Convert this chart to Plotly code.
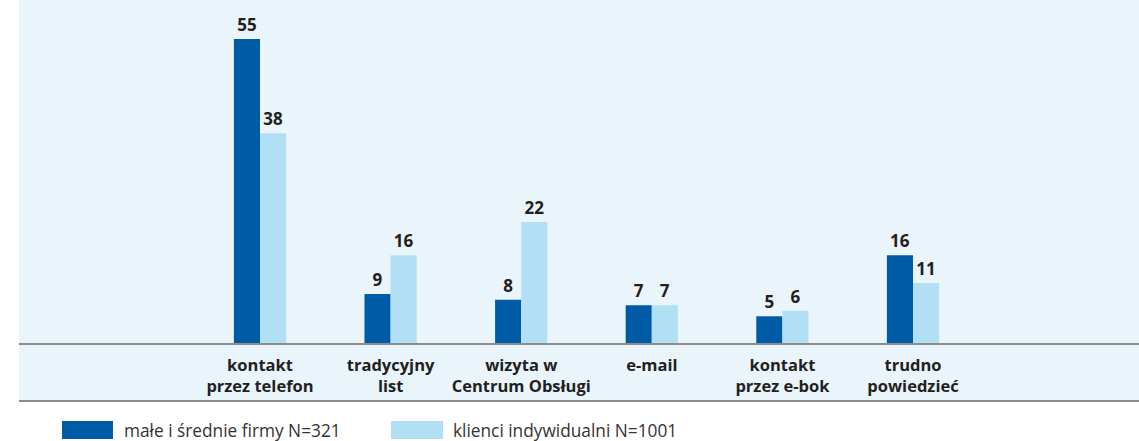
import plotly.graph_objects as go

categories = ["kontakt<br>przez telefon", "tradycyjny<br>list", "wizyta w<br>Centrum Obsługi",
              "e-mail", "kontakt<br>przez e-bok", "trudno<br>powiedzieć"]
series_names = ["małe i średnie firmy N=321", "klienci indywidualni N=1001"]
firms = [55, 9, 8, 7, 5, 16]
individuals = [38, 16, 22, 7, 6, 11]

DARK = "#005ba7"
LIGHT = "#b1dff4"
BG = "#e9f4fb"
TXT = "#231f20"
LINE = "#8c8c8c"

W, H = 1139, 441
ML, MR, MT, MB = 19, 0, 0, 97
ph = H - MT - MB
pw = W - ML - MR

x = list(range(len(categories)))
fig = go.Figure()
for vals, col, name in [(firms, DARK, series_names[0]), (individuals, LIGHT, series_names[1])]:
    fig.add_trace(go.Bar(
        x=x, y=vals, name=name, marker=dict(color=col, line=dict(width=0)),
        text=[str(v) for v in vals], textposition="outside",
        textfont=dict(family="Open Sans", size=17, color=TXT, weight="bold"),
        cliponaxis=False, showlegend=False,
    ))

panel_bottom = -(401 - MT - ph) / ph
shapes = [
    dict(type="rect", xref="paper", yref="paper", x0=0, x1=1, y0=panel_bottom, y1=1,
         fillcolor=BG, line=dict(width=0), layer="below"),
    dict(type="line", xref="paper", yref="paper", x0=0, x1=1, y0=0, y1=0,
         line=dict(color=LINE, width=2)),
    dict(type="line", xref="paper", yref="paper", x0=0, x1=1, y0=panel_bottom, y1=panel_bottom,
         line=dict(color=LINE, width=2)),
]
annotations = []
leg_items = [(62, 113, 124, DARK, series_names[0]), (391, 443, 453, LIGHT, series_names[1])]
for x0, x1, tx, col, name in leg_items:
    shapes.append(dict(type="rect", xref="paper", yref="paper",
                       x0=(x0 - ML) / pw, x1=(x1 - ML) / pw,
                       y0=-(439 - ph) / ph, y1=-(421 - ph) / ph,
                       fillcolor=col, line=dict(width=0)))
    annotations.append(dict(xref="paper", yref="paper", x=(tx - ML) / pw, y=-(430 - ph) / ph,
                            text=name, showarrow=False, xanchor="left", yanchor="middle",
                            xshift=-2,
                            font=dict(family="Open Sans", size=17.3, color="#333333")))

step = 130.6
x_left = (ML - 260) / step
x_right = (W - MR - 260) / step

fig.update_layout(
    width=W, height=H,
    margin=dict(l=ML, r=MR, t=MT, b=MB),
    paper_bgcolor="white", plot_bgcolor=BG,
    barmode="group", bargap=0.6, bargroupgap=0,
    shapes=shapes, annotations=annotations,
    xaxis=dict(range=[x_left, x_right], tickvals=x, ticktext=categories,
               showgrid=False, zeroline=False, showline=False, ticks="",
               ticklabelstandoff=9,
               tickfont=dict(family="Open Sans", size=16.5, color=TXT, weight="bold")),
    yaxis=dict(range=[0, ph / 5.545], visible=False, showgrid=False),
    showlegend=False,
)
fig.write_html("out.html", config={"displayModeBar": False},
               post_script="document.body.style.margin='0';")
